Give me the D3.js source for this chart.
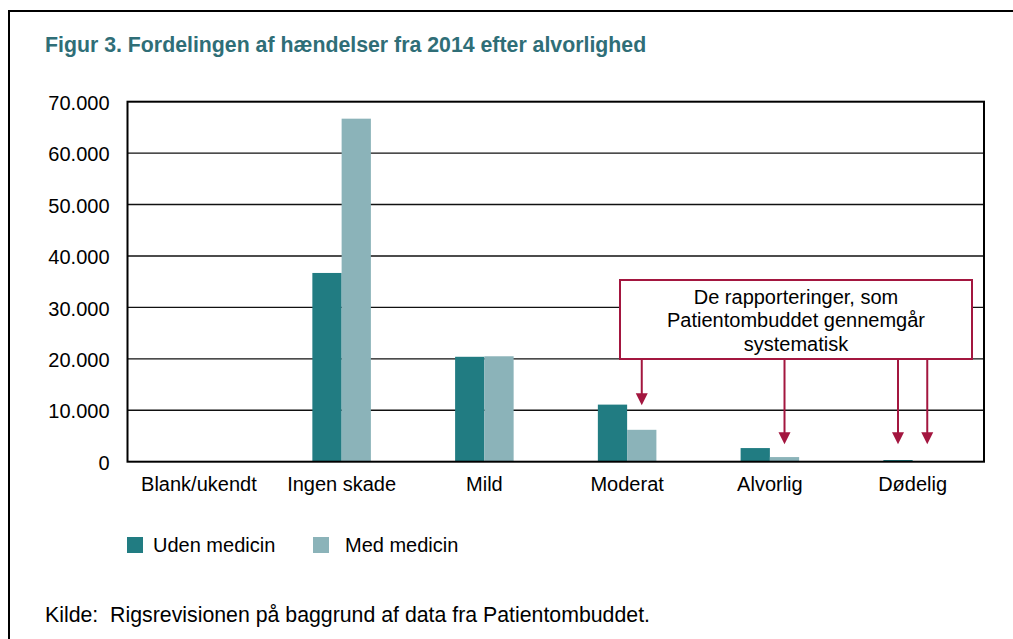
<!DOCTYPE html>
<html>
<head>
<meta charset="utf-8">
<script src="https://cdn.jsdelivr.net/npm/d3@7"></script>
<style>
  html, body { margin: 0; padding: 0; background: #fff; }
  svg { display: block; font-family: "Liberation Sans", Arial, sans-serif; }
</style>
</head>
<body>
<svg id="chart" width="1013" height="639"></svg>
<script>
const categories = ["Blank/ukendt", "Ingen skade", "Mild", "Moderat", "Alvorlig", "Dødelig"];
const seriesNames = ["Uden medicin", "Med medicin"];
const udenMedicin = [0, 36700, 20400, 11100, 2650, 330];
const medMedicin  = [0, 66700, 20500, 6200, 900, 40];
const yTicks = [0, 10000, 20000, 30000, 40000, 50000, 60000, 70000];
const title = "Figur 3. Fordelingen af hændelser fra 2014 efter alvorlighed";
const source = "Kilde:  Rigsrevisionen på baggrund af data fra Patientombuddet.";
const annotationLines = ["De rapporteringer, som", "Patientombuddet gennemgår", "systematisk"];
const arrowTargets = [
  { cat: "Moderat", series: "Med medicin", tip: 11000 },
  { cat: "Alvorlig", series: "Med medicin", tip: 3400 },
  { cat: "Dødelig", series: "Uden medicin", tip: 3400 },
  { cat: "Dødelig", series: "Med medicin", tip: 3400 }
];

const colors = { "Uden medicin": "#217c82", "Med medicin": "#8bb3b9" };
const crimson = "#a3163f";
const FS = 20;

const svg = d3.select("#chart");

// Outer frame (left and top)
svg.append("line").attr("x1", 9).attr("x2", 9).attr("y1", 10).attr("y2", 639)
  .attr("stroke", "#000").attr("stroke-width", 2);
svg.append("line").attr("x1", 8).attr("x2", 1013).attr("y1", 11).attr("y2", 11)
  .attr("stroke", "#000").attr("stroke-width", 2);

// Title
svg.append("text").attr("x", 45).attr("y", 52)
  .attr("fill", "#2f6e77").attr("font-weight", "bold").attr("font-size", 21.3)
  .text(title);

const plotLeft = 127.5, plotRight = 984, plotTop = 101.7, plotBottom = 461.7;

const x = d3.scaleBand().domain(categories).range([plotLeft, plotRight])
  .paddingInner(0.59).paddingOuter(0.295);
const xs = d3.scaleBand().domain(seriesNames).range([0, x.bandwidth()]);
const y = d3.scaleLinear().domain([0, 70000]).range([plotBottom, plotTop]);

// Gridlines
svg.append("g").selectAll("line").data(yTicks.filter(d => d > 0 && d < 70000)).join("line")
  .attr("x1", plotLeft).attr("x2", plotRight)
  .attr("y1", d => y(d)).attr("y2", d => y(d))
  .attr("stroke", "#111").attr("stroke-width", 1.4);

// Bars
const data = categories.map((c, i) => ({ cat: c, values: [
  { series: "Uden medicin", value: udenMedicin[i] },
  { series: "Med medicin", value: medMedicin[i] }
]}));
svg.append("g").selectAll("g").data(data).join("g")
  .attr("transform", d => `translate(${x(d.cat)},0)`)
  .selectAll("rect").data(d => d.values).join("rect")
  .attr("x", d => xs(d.series))
  .attr("width", xs.bandwidth())
  .attr("y", d => y(d.value))
  .attr("height", d => plotBottom - y(d.value))
  .attr("fill", d => colors[d.series]);

// Plot frame
svg.append("rect").attr("x", plotLeft).attr("y", plotTop)
  .attr("width", plotRight - plotLeft).attr("height", plotBottom - plotTop)
  .attr("fill", "none").attr("stroke", "#000").attr("stroke-width", 2);

// Y axis labels
const yAxis = d3.axisLeft(y).tickValues(yTicks).tickSize(0).tickPadding(18)
  .tickFormat(d => d === 0 ? "0" : d3.format(",")(d).replace(/,/g, "."));
const ya = svg.append("g").attr("transform", `translate(${plotLeft},0)`).call(yAxis);
ya.select(".domain").remove();
ya.selectAll("text").attr("font-size", FS).attr("fill", "#000")
  .attr("font-family", "'Liberation Sans', Arial, sans-serif").attr("dy", "0.38em");

// X axis labels
const xAxis = d3.axisBottom(x).tickSize(0).tickPadding(15);
const xa = svg.append("g").attr("transform", `translate(0,${plotBottom})`).call(xAxis);
xa.select(".domain").remove();
xa.selectAll("text").attr("font-size", FS).attr("fill", "#000")
  .attr("font-family", "'Liberation Sans', Arial, sans-serif");

// Annotation box
const box = { x: 620, y: 280, w: 352, h: 79 };
svg.append("rect").attr("x", box.x).attr("y", box.y).attr("width", box.w).attr("height", box.h)
  .attr("fill", "#fff").attr("stroke", crimson).attr("stroke-width", 2);
svg.append("g").selectAll("text").data(annotationLines).join("text")
  .attr("x", box.x + box.w / 2).attr("y", (d, i) => 304 + i * 23.3)
  .attr("text-anchor", "middle").attr("font-size", FS).attr("fill", "#000")
  .text(d => d);

// Arrows
const arrows = svg.append("g").selectAll("g").data(arrowTargets).join("g");
arrows.append("line")
  .attr("x1", d => x(d.cat) + xs(d.series) + xs.bandwidth() / 2)
  .attr("x2", d => x(d.cat) + xs(d.series) + xs.bandwidth() / 2)
  .attr("y1", box.y + box.h)
  .attr("y2", d => y(d.tip) - 10)
  .attr("stroke", crimson).attr("stroke-width", 2);
arrows.append("path")
  .attr("d", d => {
    const cx = x(d.cat) + xs(d.series) + xs.bandwidth() / 2;
    const ty = y(d.tip);
    return `M${cx - 6},${ty - 12}L${cx + 6},${ty - 12}L${cx},${ty}Z`;
  })
  .attr("fill", crimson);

// Legend
const legend = svg.append("g");
const legendItems = [
  { name: seriesNames[0], sx: 127, tx: 153 },
  { name: seriesNames[1], sx: 313, tx: 345 }
];
legend.selectAll("rect").data(legendItems).join("rect")
  .attr("x", d => d.sx).attr("y", 537).attr("width", 16).attr("height", 16)
  .attr("fill", d => colors[d.name]);
legend.selectAll("text").data(legendItems).join("text")
  .attr("x", d => d.tx).attr("y", 552).attr("font-size", FS).attr("fill", "#000")
  .text(d => d.name);

// Source
svg.append("text").attr("x", 45).attr("y", 622).attr("font-size", 21.3).attr("fill", "#000")
  .attr("xml:space", "preserve").style("white-space", "pre")
  .text(source);
</script>
</body>
</html>
